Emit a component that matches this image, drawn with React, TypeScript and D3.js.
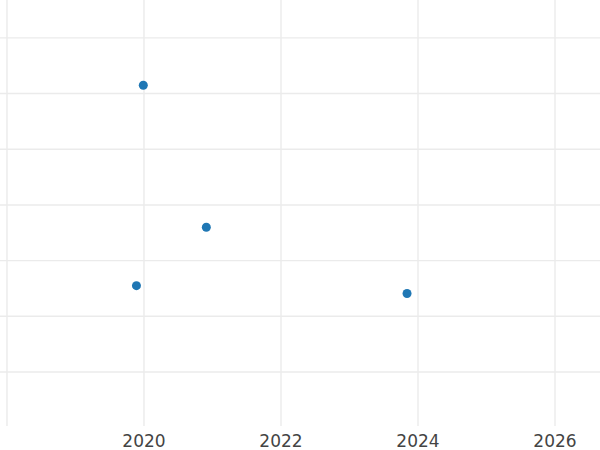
import React, { useEffect, useRef } from 'react';
import * as d3 from 'd3';

// Decimal years and values
const years = [2019.99, 2020.91, 2019.89, 2023.84];
const values = [61.5, 36.0, 25.5, 24.1];

const xTicks = [2018, 2020, 2022, 2024, 2026];
const xLabels = [2020, 2022, 2024, 2026];
const yTicks = [10, 20, 30, 40, 50, 60, 70];

const width = 600;
const height = 450;
const plotBottom = 426;

const ScatterChart: React.FC = () => {
  const svgRef = useRef<SVGSVGElement>(null);

  useEffect(() => {
    if (!svgRef.current) return;
    const svg = d3.select(svgRef.current);
    svg.selectAll('*').remove();

    const x = d3.scaleLinear()
      .domain([2017.898, 2026.657])
      .range([0, width]);

    const y = d3.scaleLinear()
      .domain([0.3, 76.8])
      .range([plotBottom, 0]);

    const grid = svg.append('g')
      .attr('stroke', '#ebebeb')
      .attr('stroke-width', 1.4);

    // vertical grid
    grid.selectAll('.vgrid')
      .data(xTicks)
      .enter()
      .append('line')
      .attr('class', 'vgrid')
      .attr('x1', d => x(d))
      .attr('x2', d => x(d))
      .attr('y1', 0)
      .attr('y2', plotBottom);

    // horizontal grid
    grid.selectAll('.hgrid')
      .data(yTicks)
      .enter()
      .append('line')
      .attr('class', 'hgrid')
      .attr('x1', 0)
      .attr('x2', width)
      .attr('y1', d => y(d))
      .attr('y2', d => y(d));

    // x tick labels
    svg.append('g')
      .selectAll('text')
      .data(xLabels)
      .enter()
      .append('text')
      .attr('x', d => x(d))
      .attr('y', 446.5)
      .attr('text-anchor', 'middle')
      .style('font-family', "'DejaVu Sans', Verdana, sans-serif")
      .style('font-size', '17px')
      .attr('fill', '#444444')
      .text(d => d3.format('d')(d));

    // points
    svg.append('g')
      .selectAll('circle')
      .data(years.map((yr, i) => ({ yr, v: values[i] })))
      .enter()
      .append('circle')
      .attr('cx', d => x(d.yr))
      .attr('cy', d => y(d.v))
      .attr('r', 4.5)
      .attr('fill', '#1f77b4');
  }, []);

  return <svg ref={svgRef} width={width} height={height} style={{ display: 'block' }} />;
};

export default function App() {
  return (
    <div style={{ position: 'fixed', left: 0, top: 0, width, height, background: '#ffffff' }}>
      <ScatterChart />
    </div>
  );
}
